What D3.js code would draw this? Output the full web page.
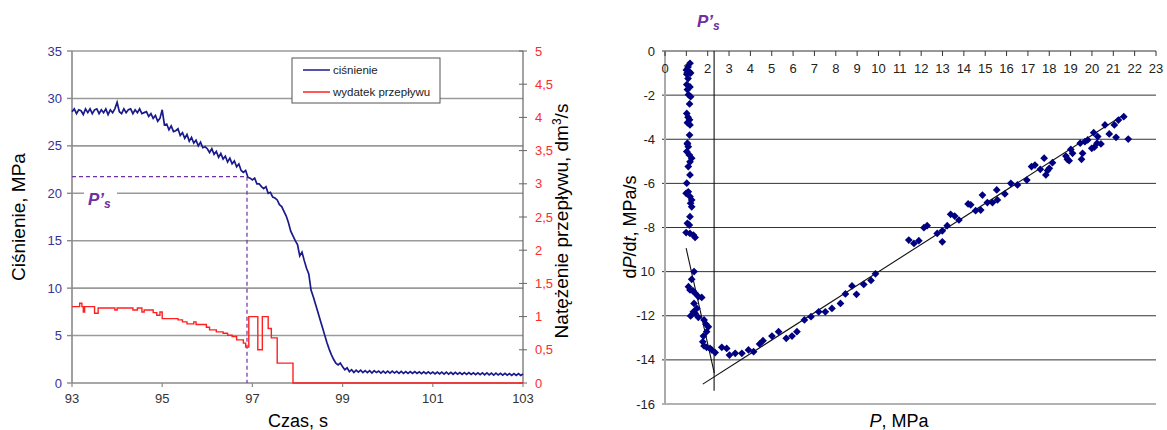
<!DOCTYPE html>
<html>
<head>
<meta charset="utf-8">
<script src="https://cdn.jsdelivr.net/npm/d3@7"></script>
<style>
  body { margin: 0; background: #fff; }
  svg { display: block; font-family: "Liberation Sans", Arial, sans-serif; }
</style>
</head>
<body>
<svg id="chart" width="1167" height="430"></svg>
<script>
// ---- left chart data ----
var timeTicks = [93, 95, 97, 99, 101, 103];
var pressureTicks = [0, 5, 10, 15, 20, 25, 30, 35];
var flowTicks = [0, 0.5, 1, 1.5, 2, 2.5, 3, 3.5, 4, 4.5, 5];
var pressureT0 = 93, pressureStep = 0.05;
var pressure = [
  28.6,28.9,28.4,28.8,28.7,28.3,28.9,28.5,28.9,28.4,28.8,28.9,28.4,28.8,28.5,28.9,28.3,28.8,28.5,28.9,
  29.6,28.6,28.4,28.9,28.5,28.8,28.9,28.4,28.8,28.5,28.9,28.4,28.5,28.6,28.1,28.4,27.9,28.2,27.6,27.9,
  28.8,27.2,27.3,26.7,27.1,26.5,26.6,26.8,26.1,26.4,25.8,26.2,25.5,25.9,25.3,25.6,25.0,25.4,24.8,24.9,
  24.7,24.3,24.7,24.1,24.4,23.8,24.2,23.6,23.9,23.3,23.7,23.1,23.4,22.8,23.1,22.4,22.2,22.4,21.7,21.6,
  21.4,21.6,21.0,21.0,20.7,20.5,20.7,20.0,20.1,19.6,19.5,19.3,18.8,18.6,18.1,17.6,16.9,16.0,15.5,15.0,
  14.6,13.4,13.8,12.9,12.1,11.5,9.8,9.1,8.3,7.5,6.7,5.9,5.1,4.3,3.6,3.0,2.5,2.1,1.9,2.1,
  1.7,1.4,1.6,1.2,1.4,1.1,1.35,1.15,1.35,1.1,1.3,1.1,1.3,1.05,1.3,1.1,1.25,1.05,1.25,1.05,
  1.25,1.05,1.25,1.05,1.22,1.02,1.22,1.02,1.2,1.0,1.2,1.0,1.2,1.0,1.18,0.98,1.18,0.98,1.18,0.98,
  1.15,0.95,1.15,0.95,1.14,0.94,1.14,0.94,1.12,0.92,1.12,0.92,1.1,0.9,1.1,0.9,1.1,0.9,1.08,0.88,
  1.08,0.88,1.06,0.86,1.06,0.86,1.04,0.84,1.04,0.84,1.02,0.82,1.02,0.82,1.0,0.8,1.0,0.8,1.0,0.8,0.95
];
var flowT = [93.00,93.17,93.22,93.25,93.28,93.50,93.58,93.95,94.00,94.35,94.45,94.55,94.60,94.80,94.88,94.95,
  95.00,95.35,95.45,95.55,95.70,95.75,95.98,96.05,96.20,96.35,96.45,96.55,96.65,96.80,96.85,96.92,
  97.12,97.22,97.35,97.42,97.55,97.90,103.00];
var flowV = [1.15,1.20,1.15,1.07,1.15,1.05,1.13,1.10,1.13,1.10,1.13,1.07,1.10,1.06,1.02,1.07,
  0.97,0.95,0.92,0.89,0.92,0.88,0.84,0.80,0.77,0.75,0.72,0.70,0.65,0.60,0.54,1.00,
  0.50,1.00,0.82,0.68,0.30,0.00,0.00];
var psTime = 96.88, psPressure = 21.75;

// ---- right chart data ----
var pTicks = d3.range(0, 24);
var dpTicks = [0, -2, -4, -6, -8, -10, -12, -14, -16];
var dpTickLabels = ["0", "-2", "-4", "-6", "-8", "10", "-12", "-14", "-16"];
var scatterP = [
  1.17,1.08,1.00,1.15,1.02,1.20,1.08,1.02,1.17,1.05,1.10,1.20,1.15,1.02,1.08,1.15,1.05,1.17,1.15,1.05,
  1.05,1.09,1.02,1.14,1.25,1.17,1.09,1.17,1.02,1.09,0.99,1.17,1.25,1.20,1.25,1.17,1.05,1.14,0.99,1.17,1.33,1.41,
  1.36,1.25,1.10,1.17,1.30,1.41,1.56,1.72,1.36,1.49,1.33,1.20,1.41,1.56,1.83,1.92,2.03,1.95,1.80,1.77,1.83,1.95,2.11,2.19,2.35,
  2.66,2.89,3.02,3.29,3.60,3.91,4.15,4.43,4.59,5.01,5.32,5.68,5.95,6.18,6.53,6.84,7.20,7.51,7.82,
  8.22,8.45,8.76,8.97,9.31,9.65,9.86,
  11.42,11.66,11.89,12.13,12.28,12.75,12.99,12.99,13.22,13.38,13.57,13.77,14.20,14.32,14.55,14.79,14.87,15.10,15.34,
  15.54,15.57,15.92,16.20,16.51,16.95,17.17,17.33,17.58,17.76,17.84,17.92,18.00,18.15,18.78,18.85,18.93,19.01,19.09,
  19.45,19.56,19.51,19.67,19.80,19.99,20.08,20.11,20.27,20.42,20.61,20.81,21.05,21.13,21.24,21.49,21.70,20.24
];
var scatterDP = [
  -0.56,-0.72,-0.86,-0.95,-1.05,-1.00,-1.25,-1.52,-1.63,-1.75,-1.98,-2.07,-2.40,-2.83,-3.00,-3.12,-3.25,-3.35,-3.81,-4.22,
  -4.18,-4.34,-4.56,-4.71,-4.86,-5.02,-5.24,-5.62,-5.99,-6.38,-6.45,-6.60,-6.75,-6.90,-7.06,-7.51,-7.81,-7.89,-8.23,-8.27,-8.34,-8.45,
  -10.00,-10.35,-10.68,-10.83,-10.86,-10.98,-11.13,-11.17,-11.44,-11.67,-11.82,-12.01,-11.89,-12.07,-12.19,-12.38,-12.50,-12.72,-12.92,-13.18,-13.37,-13.43,-13.48,-13.55,-13.67,
  -13.43,-13.48,-13.78,-13.70,-13.70,-13.55,-13.63,-13.28,-13.13,-12.92,-12.72,-13.02,-12.92,-12.72,-12.19,-12.04,-11.82,-11.82,-11.67,
  -11.44,-11.01,-10.65,-11.03,-10.58,-10.40,-10.10,
  -8.57,-8.72,-8.60,-8.01,-7.92,-8.27,-8.15,-8.65,-7.92,-7.40,-7.48,-7.66,-6.93,-6.97,-7.24,-7.21,-6.53,-6.87,-6.87,
  -6.30,-6.75,-6.48,-6.00,-6.07,-5.85,-5.24,-5.17,-5.36,-4.86,-5.62,-5.42,-5.32,-5.06,-4.76,-4.91,-4.97,-4.46,-4.64,
  -4.18,-4.64,-4.91,-4.11,-4.03,-4.41,-3.70,-4.36,-3.88,-4.21,-3.35,-3.76,-3.35,-3.91,-3.13,-2.98,-3.99,-4.18
];
var fitSteep = [[0.99, -8.94], [2.31, -14.6]];
var fitLinear = [[1.77, -15.1], [21.4, -2.95]];
var psVertical = [[2.3, 0], [2.3, -15.4]];

var svg = d3.select("#chart");
var comma = function(d){ return String(d).replace(".", ","); };

/* ================= left chart ================= */
var xL = d3.scaleLinear().domain([93, 103]).range([72, 523]);
var yL = d3.scaleLinear().domain([0, 35]).range([383, 51]);
var yR = d3.scaleLinear().domain([0, 5]).range([383, 51]);
var left = svg.append("g");

// grid
left.selectAll(".grid").data(pressureTicks.slice(1)).enter().append("line")
  .attr("x1", xL(93)).attr("x2", xL(103))
  .attr("y1", function(d){ return yL(d); }).attr("y2", function(d){ return yL(d); })
  .style("stroke", "#9a9a9a").style("stroke-width", 1.6);

// axes lines
left.append("line").attr("x1", xL(93)).attr("x2", xL(93)).attr("y1", yL(35)).attr("y2", yL(0))
  .style("stroke", "#8a8a8a").style("stroke-width", 1.6);
left.append("line").attr("x1", xL(93)).attr("x2", xL(103)).attr("y1", yL(0)).attr("y2", yL(0))
  .style("stroke", "#8a8a8a").style("stroke-width", 1.6);
left.append("line").attr("x1", xL(103)).attr("x2", xL(103)).attr("y1", yL(35)).attr("y2", yL(0))
  .style("stroke", "#666").style("stroke-width", 1.2);

// left ticks
left.selectAll(".ltick").data(pressureTicks).enter().append("line")
  .attr("x1", xL(93) - 5).attr("x2", xL(93))
  .attr("y1", function(d){ return yL(d); }).attr("y2", function(d){ return yL(d); })
  .style("stroke", "#8a8a8a").style("stroke-width", 1.4);
left.selectAll(".llab").data(pressureTicks).enter().append("text")
  .attr("x", 62).attr("y", function(d){ return yL(d) + 4.5; })
  .attr("text-anchor", "end").style("font-size", "13px").style("fill", "#333399")
  .text(function(d){ return d; });

// right ticks
left.selectAll(".rtick").data(flowTicks).enter().append("line")
  .attr("x1", xL(103) - 4).attr("x2", xL(103) + 4)
  .attr("y1", function(d){ return yR(d); }).attr("y2", function(d){ return yR(d); })
  .style("stroke", "#666").style("stroke-width", 1);
left.selectAll(".rlab").data(flowTicks).enter().append("text")
  .attr("x", 535).attr("y", function(d){ return yR(d) + 4.5; })
  .style("font-size", "13px").style("fill", "#ff2a2a")
  .text(comma);

// bottom ticks
left.selectAll(".btick").data(timeTicks).enter().append("line")
  .attr("x1", function(d){ return xL(d); }).attr("x2", function(d){ return xL(d); })
  .attr("y1", yL(0)).attr("y2", yL(0) + 4)
  .style("stroke", "#8a8a8a").style("stroke-width", 1.2);
left.selectAll(".blab").data(timeTicks).enter().append("text")
  .attr("x", function(d){ return xL(d); }).attr("y", 403)
  .attr("text-anchor", "middle").style("font-size", "13px").style("fill", "#333")
  .text(function(d){ return d; });

// titles
left.append("text").attr("x", 298).attr("y", 427).attr("text-anchor", "middle")
  .style("font-size", "18px").text("Czas, s");
left.append("text").attr("transform", "translate(25,217) rotate(-90)").attr("text-anchor", "middle")
  .style("font-size", "19px").text("Ciśnienie, MPa");
var rt = left.append("text").attr("transform", "translate(568,221) rotate(-90)").attr("text-anchor", "middle")
  .style("font-size", "19px");
rt.append("tspan").text("Natężenie przepływu, dm");
rt.append("tspan").attr("dy", -7).style("font-size", "12px").text("3");
rt.append("tspan").attr("dy", 7).text("/s");

// P's dashed guide
var psColor = "#7030a0";
left.append("line").attr("x1", xL(93)).attr("x2", xL(psTime))
  .attr("y1", yL(psPressure)).attr("y2", yL(psPressure))
  .style("stroke", psColor).style("stroke-width", 1.2).style("stroke-dasharray", "4,3");
left.append("line").attr("x1", xL(psTime)).attr("x2", xL(psTime))
  .attr("y1", yL(psPressure)).attr("y2", yL(0))
  .style("stroke", psColor).style("stroke-width", 1.2).style("stroke-dasharray", "4,3");

// flow (step line)
var flowData = flowT.map(function(t, i){ return [t, flowV[i]]; });
left.append("path").datum(flowData)
  .attr("d", d3.line().x(function(d){ return xL(d[0]); }).y(function(d){ return yR(d[1]); }).curve(d3.curveStepAfter))
  .style("fill", "none").style("stroke", "#ff2020").style("stroke-width", 1.4);

// pressure line
var pressureData = pressure.map(function(v, i){ return [pressureT0 + i * pressureStep, v]; });
left.append("path").datum(pressureData)
  .attr("d", d3.line().x(function(d){ return xL(d[0]); }).y(function(d){ return yL(d[1]); }))
  .style("fill", "none").style("stroke", "#1a1a8c").style("stroke-width", 1.7);

// P's label with white mask
left.append("rect").attr("x", 84).attr("y", 185).attr("width", 33).attr("height", 24).style("fill", "#fff");
var psL = left.append("text").attr("x", 88).attr("y", 205)
  .style("font-size", "17px").style("font-weight", "bold").style("font-style", "italic").style("fill", psColor);
psL.append("tspan").text("P’");
psL.append("tspan").attr("dy", 3).style("font-size", "12px").text("s");

// legend
var lg = left.append("g");
lg.append("rect").attr("x", 292).attr("y", 58).attr("width", 148).attr("height", 45)
  .style("fill", "#fff").style("stroke", "#555").style("stroke-width", 1);
var legendItems = [["ciśnienie", "#1a1a8c"], ["wydatek przepływu", "#ff2020"]];
legendItems.forEach(function(it, i){
  var y = 70 + i * 22;
  lg.append("line").attr("x1", 303).attr("x2", 330).attr("y1", y).attr("y2", y)
    .style("stroke", it[1]).style("stroke-width", 1.5);
  lg.append("text").attr("x", 333).attr("y", y + 4).style("font-size", "11.5px").style("fill", "#222").text(it[0]);
});

/* ================= right chart ================= */
var xP = d3.scaleLinear().domain([0, 23]).range([665, 1156]);
var yD = d3.scaleLinear().domain([-16, 0]).range([404, 51]);
var right = svg.append("g");

right.selectAll(".grid").data(dpTicks.slice(0, -1)).enter().append("line")
  .attr("x1", xP(0) - 3).attr("x2", xP(23))
  .attr("y1", function(d){ return yD(d); }).attr("y2", function(d){ return yD(d); })
  .style("stroke", "#333").style("stroke-width", 1);
right.append("line").attr("x1", xP(0) - 3).attr("x2", xP(23)).attr("y1", yD(-16)).attr("y2", yD(-16))
  .style("stroke", "#999").style("stroke-width", 1.6);
right.append("line").attr("x1", xP(0)).attr("x2", xP(0)).attr("y1", yD(0)).attr("y2", yD(-16))
  .style("stroke", "#aaa").style("stroke-width", 2);

right.selectAll(".xtick").data(pTicks).enter().append("line")
  .attr("x1", function(d){ return xP(d); }).attr("x2", function(d){ return xP(d); })
  .attr("y1", yD(0)).attr("y2", yD(0) + 5)
  .style("stroke", "#333").style("stroke-width", 1);
right.selectAll(".xlab").data(pTicks).enter().append("text")
  .attr("x", function(d){ return xP(d); }).attr("y", 73)
  .attr("text-anchor", "middle").style("font-size", "13px").style("fill", "#222")
  .text(function(d){ return d; });
right.selectAll(".ylab").data(dpTicks).enter().append("text")
  .attr("x", 655).attr("y", function(d){ return yD(d) + 4.5; })
  .attr("text-anchor", "end").style("font-size", "13px").style("fill", "#222")
  .text(function(d, i){ return dpTickLabels[i]; });

// titles
var yt = right.append("text").attr("transform", "translate(636,227) rotate(-90)").attr("text-anchor", "middle")
  .style("font-size", "18px");
yt.append("tspan").text("d");
yt.append("tspan").style("font-style", "italic").text("P");
yt.append("tspan").text("/d");
yt.append("tspan").style("font-style", "italic").text("t");
yt.append("tspan").text(", MPa/s");
var xt = right.append("text").attr("x", 899).attr("y", 427).attr("text-anchor", "middle")
  .style("font-size", "18px");
xt.append("tspan").style("font-style", "italic").text("P");
xt.append("tspan").text(", MPa");

var psR = right.append("text").attr("x", 697).attr("y", 27)
  .style("font-size", "17px").style("font-weight", "bold").style("font-style", "italic").style("fill", psColor);
psR.append("tspan").text("P’");
psR.append("tspan").attr("dy", 3).style("font-size", "12px").text("s");

// guide lines
var lineP = d3.line().x(function(d){ return xP(d[0]); }).y(function(d){ return yD(d[1]); });
[fitSteep, fitLinear, psVertical].forEach(function(seg){
  right.append("path").datum(seg).attr("d", lineP)
    .style("fill", "none").style("stroke", "#111").style("stroke-width", 1.1);
});

// scatter
var diamond = d3.symbol().type(d3.symbolSquare).size(30);
right.selectAll(".pt").data(scatterP).enter().append("path")
  .attr("d", diamond)
  .attr("transform", function(d, i){ return "translate(" + xP(d) + "," + yD(scatterDP[i]) + ") rotate(45)"; })
  .style("fill", "#000080");
</script>
</body>
</html>
